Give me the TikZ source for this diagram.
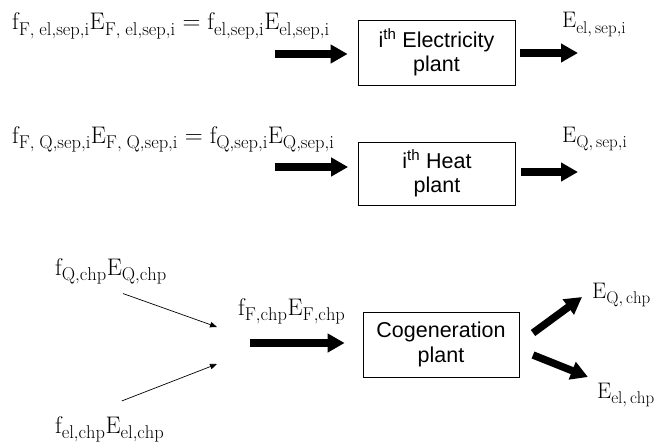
\documentclass[tikz,border=0pt]{standalone}
\usepackage{fontspec}
\setsansfont{Liberation Sans}
\usetikzlibrary{arrows.meta}
\DeclareMathSizes{24}{24}{18.5}{13}
\DeclareMathSizes{22.5}{22.5}{17}{12}
\newcommand{\rmsub}[1]{\raisebox{-2pt}{$\scriptstyle\mathrm{#1}$}}
\newcommand{\fE}[1]{\mathrm{f}_{\rmsub{#1}}\mathrm{E}_{\rmsub{#1}}}

\begin{document}
\begin{tikzpicture}[x=1pt,y=-1pt, every node/.style={inner sep=0pt},
  eqn/.style={anchor=base west, font=\fontsize{24}{28}\selectfont},
  outlabel/.style={anchor=base west, font=\fontsize{22.5}{26}\selectfont},
  plant/.style={draw, line width=0.8pt, minimum width=157pt, minimum height=65pt, align=center, font=\sffamily\fontsize{21.5}{24.5}\selectfont},
  flow/.style={-{Triangle[length=17pt,width=18pt]}, line width=7.5pt},
  feed/.style={-{Triangle[length=7pt,width=5.5pt]}, line width=0.7pt}]
  \useasboundingbox (0,0) rectangle (656,444);

  % separate electricity plant
  \node[eqn] (eqel) at (12,30) {$\fE{F,\;el{,}sep{,}i} = \fE{el{,}sep{,}i}$};
  \node[plant] (elplant) at (436.5,52.5) {i\textsuperscript{th} Electricity\\plant};
  \node[outlabel] (Eelsep) at (562,28) {$\mathrm{E}_{\rmsub{el{,}\,sep{,}i}}$};
  \coordinate (elin) at (275,54);
  \coordinate (elout) at (578,53);
  \draw[flow, shorten >=10pt] (elin) -- (elin -| elplant.west);
  \draw[flow, shorten <=5pt] (elplant.east |- elout) -- (elout);

  % separate heat plant
  \node[eqn] (eqQ) at (12,143) {$\fE{F,\;Q{,}sep{,}i} = \fE{Q{,}sep{,}i}$};
  \node[plant, minimum height=63pt] (Qplant) at (437,173.5) {i\textsuperscript{th} Heat\\plant};
  \node[outlabel] (EQsep) at (562,142) {$\mathrm{E}_{\rmsub{Q{,}\,sep{,}i}}$};
  \coordinate (Qin) at (275,167);
  \coordinate (Qout) at (578,172);
  \draw[flow, shorten >=10pt] (Qin) -- (Qin -| Qplant.west);
  \draw[flow, shorten <=5pt] (Qplant.east |- Qout) -- (Qout);

  % cogeneration plant
  \node[eqn] (fQchp) at (55,275) {$\fE{Q{,}chp}$};
  \node[eqn] (felchp) at (55,433) {$\fE{el{,}chp}$};
  \node[eqn] (fFchp) at (238,315) {$\fE{F{,}chp}$};
  \node[plant, minimum width=156pt] (chplant) at (441,344.5) {Cogeneration\\plant};
  \node[outlabel] (EQchp) at (592,298) {$\mathrm{E}_{\rmsub{Q{,}\,chp}}$};
  \node[outlabel] (Eelchp) at (597,398) {$\mathrm{E}_{\rmsub{el{,}\,chp}}$};
  \coordinate (Qmix) at (217,327);
  \coordinate (elmix) at (217,364);
  \draw[feed] ([shift={(12,9)}]fQchp.south) -- (Qmix);
  \draw[feed] ([shift={(12,-15)}]felchp.north) -- (elmix);
  \coordinate (chpin) at (250,343);
  \draw[flow, shorten >=18pt] (chpin) -- (chpin -| chplant.west);
  \coordinate (QchpA) at (533,333);
  \coordinate (QchpB) at (582,297);
  \coordinate (elchpA) at (533,355);
  \coordinate (elchpB) at (588,377);
  \draw[flow] (QchpA) -- (QchpB);
  \draw[flow] (elchpA) -- (elchpB);
\end{tikzpicture}
\end{document}
